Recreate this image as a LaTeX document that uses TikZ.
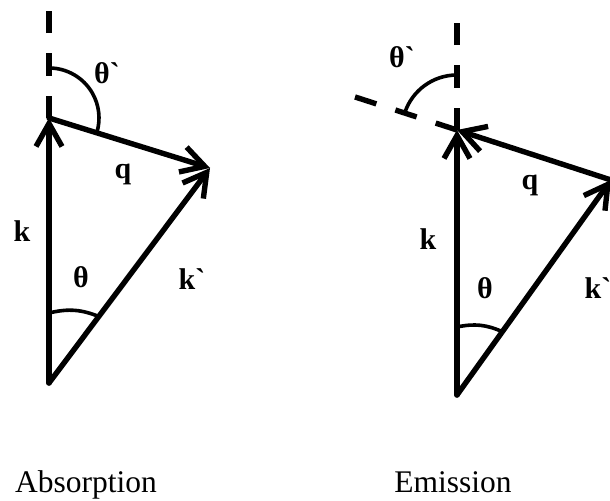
\documentclass[tikz,border=0pt]{standalone}
\usepackage{fontspec}
\setmainfont{Liberation Serif}
\newfontfamily\vecfont{Liberation Serif}
\usetikzlibrary{arrows.meta}

\begin{document}
\begin{tikzpicture}[x=0.5pt, y=0.5pt,
    vec/.style={line width=2.7pt, line cap=round, -{Straight Barb[length=11.5pt,width=13pt]}},
    guide/.style={line width=2.7pt, dash pattern=on 11.2pt off 10pt},
    angarc/.style={line width=1.8pt},
    lbl/.style={font=\vecfont\fontsize{15}{18}\selectfont\bfseries, inner sep=0pt},
    caption/.style={font=\fontsize{15.75}{19}\selectfont, inner sep=0pt, anchor=base}]
  \useasboundingbox (0,0) rectangle (610,501);

  % Absorption: k and q end in k`
  \coordinate (a0) at (49,118);
  \coordinate (a1) at (49,383);
  \coordinate (a2) at (210,333);
  \coordinate (a3) at (49,491);
  \draw[guide] (a1) -- (a3);
  \draw[vec] (a0) -- (a1);
  \draw[vec] (a1) -- (a2);
  \draw[vec] (a0) -- (a2);
  \draw[angarc] ([shift={(90:50)}]a1) arc[start angle=90, end angle=-17.2, radius=50];
  \draw[angarc] (49,188) to[bend left=18] (100,184);
  \node[lbl] (ak) at (22,270) {k};
  \node[lbl] (aq) at (123,327) {q};
  \node[lbl] (ath) at (81,224) {θ};
  \node[lbl] (akp) at (192,222) {k`};
  \node[lbl] (athp) at (107,428) {θ`};
  \node[caption] (abs) at (86,8) {Absorption};

  % Emission: k` and q end in k
  \coordinate (e0) at (457,106);
  \coordinate (e1) at (457,371);
  \coordinate (e2) at (611,321);
  \coordinate (e3) at (457,479);
  \coordinate (e4) at (352,405);
  \draw[guide] (e1) -- (e3);
  \draw[guide] (e1) -- (e4);
  \draw[vec] (e0) -- (e1);
  \draw[vec] (e2) -- (e1);
  \draw[vec] (e0) -- (e2);
  \draw[angarc] ([shift={(90:55)}]e1) arc[start angle=90, end angle=162, radius=55];
  \draw[angarc] (457,174) to[bend left=18] (503,169);
  \node[lbl] (ek) at (428,262) {k};
  \node[lbl] (eq) at (530,316) {q};
  \node[lbl] (eth) at (485,213) {θ};
  \node[lbl] (ekp) at (598,213) {k`};
  \node[lbl] (ethp) at (402,444) {θ`};
  \node[caption] (emi) at (453,8) {Emission};
\end{tikzpicture}
\end{document}
